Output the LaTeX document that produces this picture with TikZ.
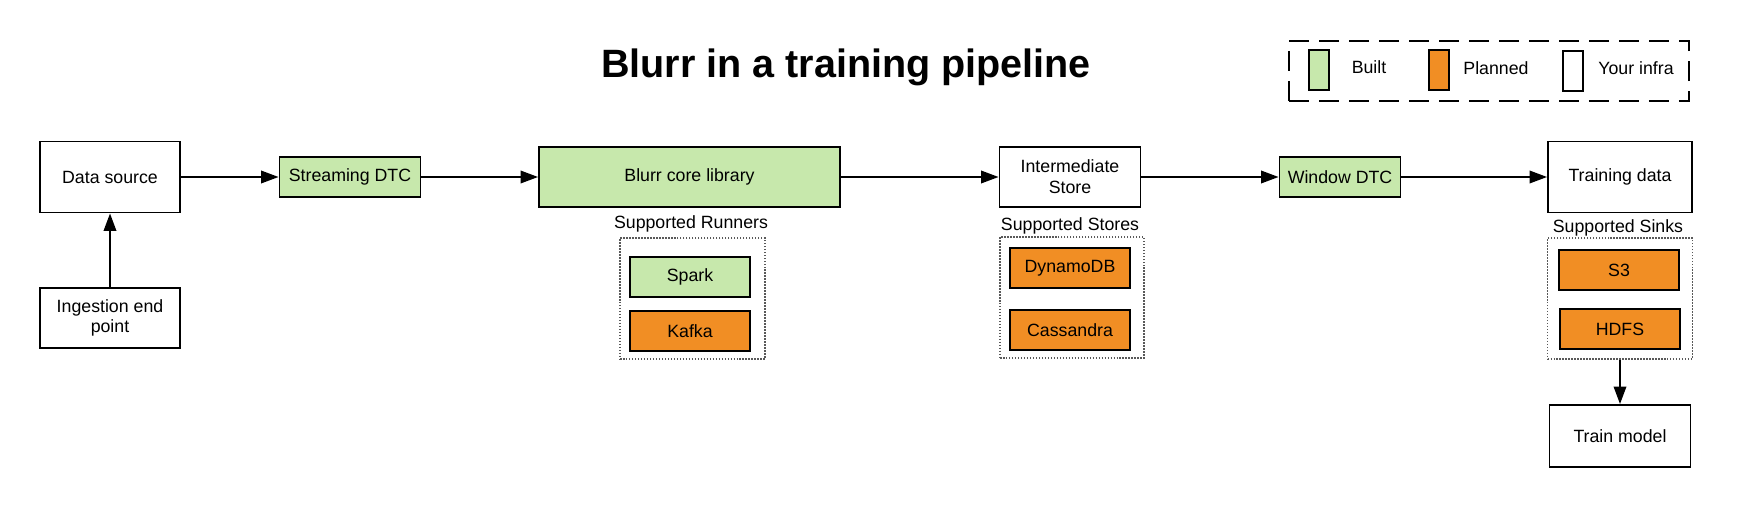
\documentclass[tikz,border=0pt]{standalone}
\usepackage{fontspec}
\setmainfont{Liberation Sans}
\usetikzlibrary{arrows.meta}
\definecolor{built}{HTML}{C7E8AC}
\definecolor{planned}{HTML}{F18E24}

\begin{document}
\begin{tikzpicture}[x=0.02cm,y=-0.02cm,
	box/.style={draw,line width=1.1pt,inner sep=0pt,align=center,font=\fontsize{10.1}{11.8}\selectfont},
	label/.style={box,draw=none},
	group/.style={draw=black!65,line width=0.9pt,dash pattern=on 0.85pt off 0.85pt,minimum height=2.42cm},
	swatch/.style={box,minimum width=0.4cm,minimum height=0.8cm},
	flow/.style={line width=1.1pt,-{Triangle[length=0.35cm,width=0.25cm]}}]
					\useasboundingbox (0,0) rectangle (1748,507);
					
					\node[font=\fontsize{22.5}{27}\selectfont\bfseries] (title) at (846,67) {Blurr in a training pipeline};
					
					% legend
					\node[draw,line width=1.1pt,dash pattern=on 0.4cm off 0.2cm,minimum width=8cm,minimum height=1.2cm] (legend) at (1489,71) {};
					\node[swatch,fill=built] (kbuilt) at (1319,70) {};
					\node[swatch,fill=planned] (kplanned) at (1439,70) {};
					\node[swatch,fill=white] (kinfra) at (1573,71) {};
					\node[label] (tbuilt) at (1369,67) {Built};
					\node[label] (tplanned) at (1496,68) {Planned};
					\node[label] (tinfra) at (1636,68) {Your infra};
					
					% pipeline
					\node[box,minimum width=2.8cm,minimum height=1.42cm] (src) at (110,177) {Data source};
					\node[box,minimum width=2.8cm,minimum height=1.2cm] (ingest) at (110,318) {Ingestion end\\point};
					\node[box,fill=built,minimum width=2.82cm,minimum height=0.8cm] (sdtc) at (350,177) {Streaming DTC};
					\node[box,fill=built,minimum width=6.02cm,minimum height=1.2cm] (core) at (689.5,177) {Blurr core library};
					\node[box,minimum width=2.82cm,minimum height=1.2cm] (inter) at (1070,177) {Intermediate\\Store};
					\node[box,fill=built,minimum width=2.42cm,minimum height=0.8cm] (wdtc) at (1340,177) {Window DTC};
					\node[box,minimum width=2.88cm,minimum height=1.42cm] (train) at (1620,177) {Training data};
					\node[box,minimum width=2.82cm,minimum height=1.24cm] (model) at (1620,436) {Train model};
					
					% runners
					\node[label] (runlbl) at (691,224) {Supported Runners};
					\node[group,minimum width=2.9cm] (runners) at (692.5,298.5) {};
					\node[box,fill=built,minimum width=2.4cm,minimum height=0.8cm] (spark) at (690,277) {Spark};
					\node[box,fill=planned,minimum width=2.4cm,minimum height=0.8cm] (kafka) at (690,331) {Kafka};
					
					% stores
					\node[label] (storelbl) at (1070,226) {Supported Stores};
					\node[group,minimum width=2.88cm] (stores) at (1072,297.5) {};
					\node[box,fill=planned,minimum width=2.4cm,minimum height=0.8cm] (dynamo) at (1070,268) {DynamoDB};
					\node[box,fill=planned,minimum width=2.4cm,minimum height=0.8cm] (cass) at (1070,330) {Cassandra};
					
					% sinks
					\node[label] (sinklbl) at (1618,228) {Supported Sinks};
					\node[group,minimum width=2.9cm] (sinks) at (1620,298.5) {};
					\node[box,fill=planned,minimum width=2.4cm,minimum height=0.8cm] (s3) at (1619,270) {S3};
					\node[box,fill=planned,minimum width=2.4cm,minimum height=0.8cm] (hdfs) at (1620,329) {HDFS};
					
					\draw[flow] (src) -- (sdtc);
					\draw[flow] (ingest) -- (src);
					\draw[flow] (sdtc) -- (core);
					\draw[flow] (core) -- (inter);
					\draw[flow] (inter) -- (wdtc);
					\draw[flow] (wdtc) -- (train);
					\draw[flow] (sinks) -- (model);
					
				\end{tikzpicture}
\end{document}
